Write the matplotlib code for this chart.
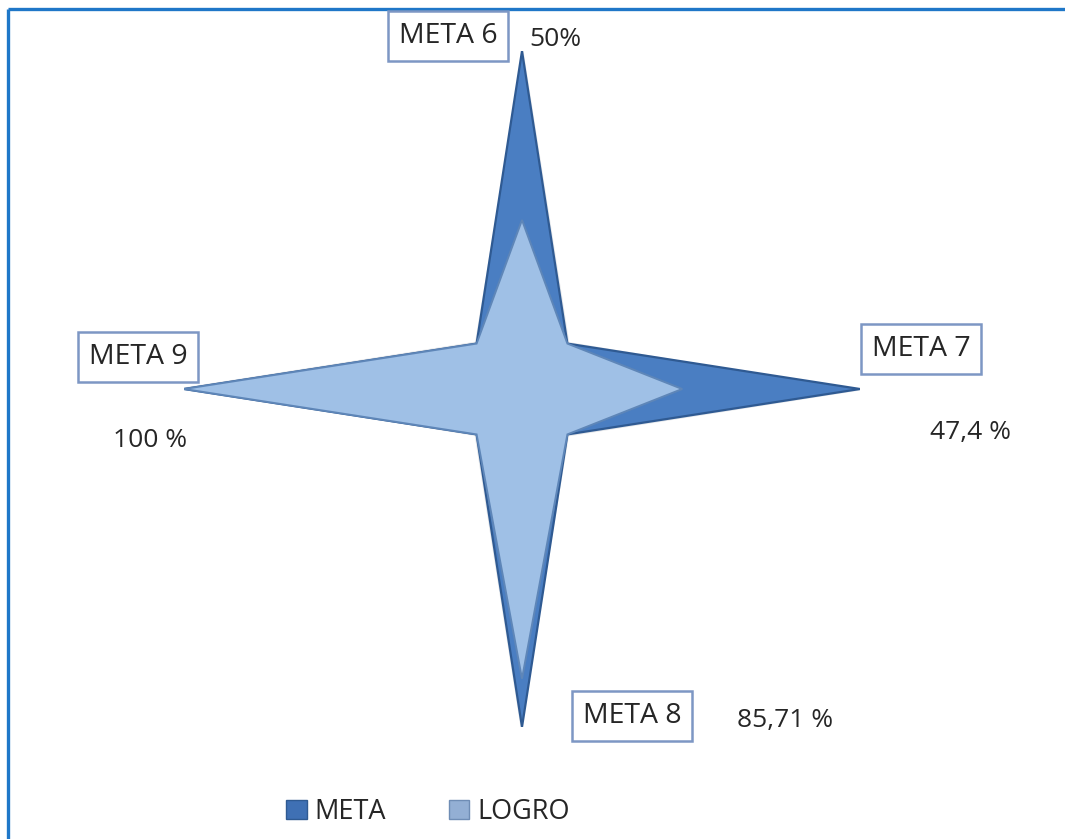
import numpy as np
import matplotlib
matplotlib.use("Agg")
import matplotlib.pyplot as plt
from matplotlib.patches import Patch
from matplotlib.lines import Line2D

# ---- data ----
categories = ["META 6", "", "META 7", "", "META 8", "", "META 9", ""]
meta_values = [100, 19, 100, 19, 100, 19, 100, 19]
logro_values = [50, 19, 47.4, 19, 85.71, 19, 100, 19]
axis_labels = ["META 6", "META 7", "META 8", "META 9"]
value_labels = ["50%", "47,4 %", "85,71 %", "100 %"]
series_names = ["META", "LOGRO"]

W, H = 1065, 839
plt.rcParams['font.family'] = ['Open Sans', 'DejaVu Sans']
fig = plt.figure(figsize=(W / 100, H / 100), dpi=100)
fig.patch.set_facecolor("white")

def fx(px):
    return px / W

def fy(py):
    return 1 - py / H

# frame (top and left blue lines)
fig.add_artist(Line2D([fx(8), 1.0], [fy(9), fy(9)], color="#1f77c8", lw=2.4,
                      transform=fig.transFigure, solid_capstyle="butt"))
fig.add_artist(Line2D([fx(8), fx(8)], [0.0, fy(9)], color="#1f77c8", lw=2.4,
                      transform=fig.transFigure, solid_capstyle="butt"))

cx, cy, R = 522, 389, 338
ax = fig.add_axes([fx(cx - R), fy(cy + R), 2 * R / W, 2 * R / H], projection="polar")
ax.set_theta_zero_location("N")
ax.set_theta_direction(-1)
ax.set_ylim(0, 100)
ax.set_rorigin(0)
ax.grid(False)
ax.set_xticks([])
ax.set_yticks([])
ax.spines["polar"].set_visible(False)
ax.patch.set_alpha(0)

n = len(categories)
theta = np.linspace(0, 2 * np.pi, n, endpoint=False)
tc = np.concatenate([theta, theta[:1]])

meta_c = np.concatenate([meta_values, meta_values[:1]])
logro_c = np.concatenate([logro_values, logro_values[:1]])

# soft shadows
ax.fill(tc + 0.004, meta_c * 0.995 + 0.8, color="#9aa3ad", alpha=0.25, zorder=1, lw=0)
ax.fill(tc, meta_c, facecolor="#4a7ec2", edgecolor="#2f5a92", lw=1.6, zorder=2)
ax.fill(tc, logro_c, facecolor="#9fc0e6", edgecolor="#5e86b8", lw=1.4, zorder=3)

# category boxes
box_props = dict(boxstyle="square,pad=0.38", facecolor="white", edgecolor="#7d97c4", lw=1.8)
box_pos = [(448, 36), (921, 349), (632, 716), (138, 357)]
for lab, (px, py) in zip(axis_labels, box_pos):
    fig.text(fx(px), fy(py), lab, ha="center", va="center", fontsize=20.5,
             color="#262626", bbox=box_props)

# value labels
val_pos = [(555, 40), (970, 432), (785, 720), (150, 440)]
for lab, (px, py) in zip(value_labels, val_pos):
    fig.text(fx(px), fy(py), lab, ha="center", va="center", fontsize=19, color="#262626")

# legend
handles = [Patch(facecolor="#3f70b4", edgecolor="#2f5a92", label=series_names[0]),
           Patch(facecolor="#93afd4", edgecolor="#6f8db5", label=series_names[1])]
fig.legend(handles=handles, loc="center", bbox_to_anchor=(fx(428), fy(812)),
           ncol=2, frameon=False, fontsize=19.5, handlelength=0.75, handleheight=0.75,
           handletextpad=0.3, columnspacing=2.3, labelcolor="#262626")

fig.savefig("out.png", dpi=100, facecolor="white")
